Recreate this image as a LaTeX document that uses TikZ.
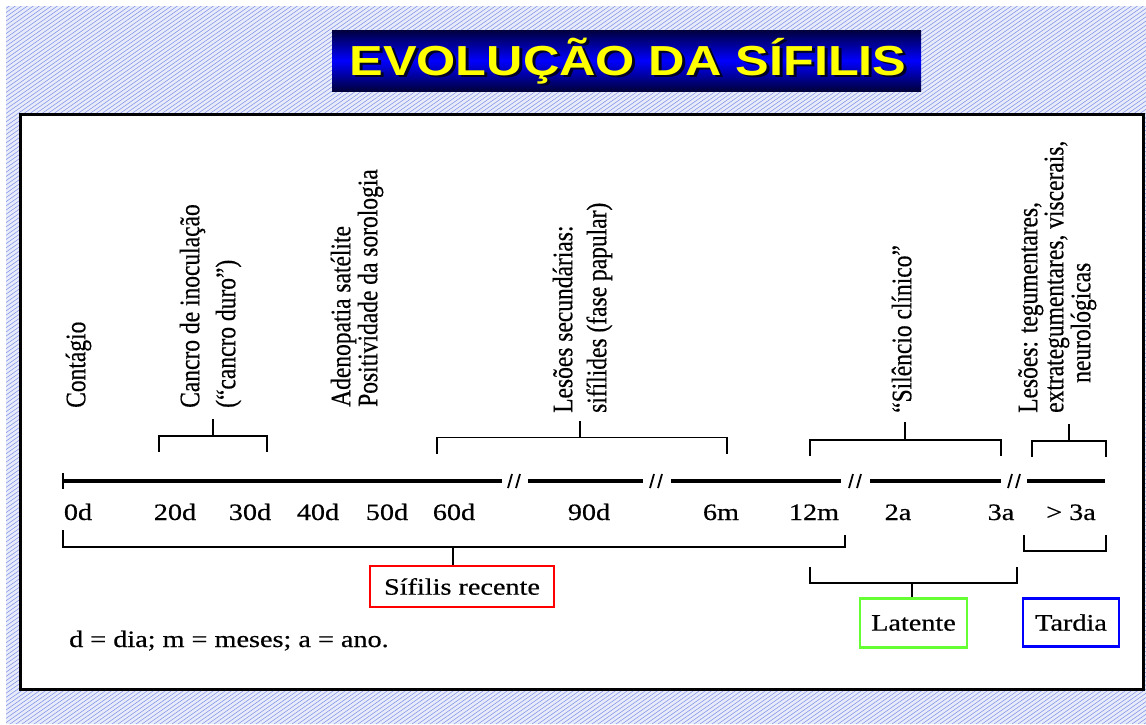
\documentclass[tikz,border=0pt]{standalone}
\usepackage{fontspec}
\setmainfont{Liberation Serif}[FakeBold=0.5]
\newfontfamily\titlefont{Liberation Sans}
\usepackage{graphicx}
\newcommand\hx[1]{\scalebox{1.2}[1]{#1}}
\newcommand\vt[1]{\scalebox{1.2}[1]{\rotatebox{90}{\strut #1}}}
\newcommand\ttl[1]{{\titlefont\bfseries\fontsize{42}{42}\selectfont\scalebox{1.2}[1]{#1}}}
\newcommand\shadowed[1]{\rlap{\hspace{2.5pt}\raisebox{-2.5pt}{\color{black!85!blue}#1}}{\color{tyellow}#1}}
\definecolor{bgbase}{RGB}{232,236,250}
\definecolor{bgline}{RGB}{130,146,232}
\definecolor{navy}{RGB}{0,0,60}
\definecolor{tblue}{RGB}{0,0,255}
\definecolor{tyellow}{RGB}{255,255,0}
\definecolor{rboxc}{RGB}{255,0,0}
\definecolor{gboxc}{RGB}{102,255,51}
\definecolor{bboxc}{RGB}{0,0,255}
\begin{document}
\begin{tikzpicture}[x=1pt,y=-1pt,
  txt/.style={font=\fontsize{23.5}{28}\selectfont, inner sep=0pt},
  vtext/.style={txt, anchor=south west, xshift=-23.5pt},
  tick/.style={txt, anchor=base},
  brk/.style={line width=1.8pt, line join=miter},
  tl/.style={line width=4.5pt},
  slash/.style={line width=1.8pt},
  lbox/.style={txt, draw, line width=2.5pt}
]
\useasboundingbox (0,0) rectangle (1146,724);
\fill[white] (0,0) rectangle (1146,724);
% hatched background
\fill[bgbase] (6,6) rectangle (1146,724);
\begin{scope}
  \clip (6,6) rectangle (1146,724);
  \foreach \t in {-1040,-1034,...,1150} \draw[bgline, line width=0.55pt] (\t,724) -- (\t+1034,0);
\end{scope}
% title
\node[minimum width=589pt, minimum height=61pt, inner sep=0pt,
      top color=navy, bottom color=navy, middle color=tblue] (titlebox) at (626.5,60.5) {};
\node[anchor=base, inner sep=0pt] (title) at (628,75) {\ttl{\shadowed{EVOLUÇÃO DA SÍFILIS}}};
% panel
\draw[line width=3pt, fill=white] (20.5,114.5) rectangle (1143,689.5);
% timeline
\draw[tl] (63,481) -- (502,481);
\draw[tl] (528,481) -- (643,481);
\draw[tl] (671,481) -- (841,481);
\draw[tl] (870,481) -- (1001,481);
\draw[tl] (1027,481) -- (1105,481);
\draw[line width=1.5pt] (63,473) -- (63,489);
\foreach \c in {515,657,856,1015}
  \draw[slash] (\c-7,488) -- (\c-3,474) (\c+1,488) -- (\c+5,474);
% tick labels
\node[tick] (t0) at (78,520) {\hx{0d}};
\node[tick] (t20) at (175,520) {\hx{20d}};
\node[tick] (t30) at (250,520) {\hx{30d}};
\node[tick] (t40) at (318,520) {\hx{40d}};
\node[tick] (t50) at (387,520) {\hx{50d}};
\node[tick] (t60) at (454,520) {\hx{60d}};
\node[tick] (t90) at (589,520) {\hx{90d}};
\node[tick] (t6m) at (721,520) {\hx{6m}};
\node[tick] (t12m) at (814,520) {\hx{12m}};
\node[tick] (t2a) at (898,520) {\hx{2a}};
\node[tick] (t3a) at (1001,520) {\hx{3a}};
\node[tick] (tg3a) at (1071,520) {\hx{> 3a}};
% vertical labels
\node[vtext] (contagio) at (85,408) {\vt{Contágio}};
\node[vtext] (cancroa) at (199,408) {\vt{Cancro de inoculação}};
\node[vtext] (cancrob) at (235,408) {\vt{(“cancro duro”)}};
\node[vtext] (adeno) at (350,407) {\vt{Adenopatia satélite}};
\node[vtext] (posit) at (377,407) {\vt{Positividade da sorologia}};
\node[vtext] (lesa) at (572,413) {\vt{Lesões secundárias:}};
\node[vtext] (lesb) at (606,413) {\vt{sifílides (fase papular)}};
\node[vtext] (silencio) at (911,413) {\vt{“Silêncio clínico”}};
\node[vtext] (tarda) at (1037,413) {\vt{Lesões: tegumentares,}};
\node[vtext] (tardb) at (1063,413) {\vt{extrategumentares, viscerais,}};
\node[vtext] (tardc) at (1090,383) {\vt{neurológicas}};
% top brackets
\draw[brk] (159,452) -- (159,436) -- (267,436) -- (267,452) (213,436) -- (213,419);
\draw[brk] (437,454) -- (437,437.5) -- (727,437.5) -- (727,454) (580,437.5) -- (580,421);
\draw[brk] (810,456) -- (810,440) -- (1001,440) -- (1001,456) (905,440) -- (905,422);
\draw[brk] (1032,457) -- (1032,441) -- (1106,441) -- (1106,457) (1069,441) -- (1069,424);
% boxes
\node[lbox, draw=rboxc, minimum width=184pt, minimum height=41pt] (recente) at (462,586.5) {\hx{Sífilis recente}};
\node[lbox, draw=gboxc, minimum width=107pt, minimum height=49pt] (latente) at (913.5,623) {\hx{Latente}};
\node[lbox, draw=bboxc, minimum width=96pt, minimum height=48pt] (tardia) at (1071,622.5) {\hx{Tardia}};
% bottom brackets
\draw[brk] (63,530) -- (63,547) -- (845,547) -- (845,535);
\coordinate (rstem) at (453,547);
\draw[brk] (rstem) -- (rstem |- recente.north);
\draw[brk] (810,567) -- (810,583) -- (1017,583) -- (1017,567);
\coordinate (lstem) at (912,583);
\draw[brk] (lstem) -- (lstem |- latente.north);
\draw[brk] (1024,535) -- (1024,551) -- (1106,551) -- (1106,535);
% legend
\node[txt, anchor=base west] (legend) at (69,647) {\hx{d = dia; m = meses; a = ano.}};
\end{tikzpicture}
\end{document}
